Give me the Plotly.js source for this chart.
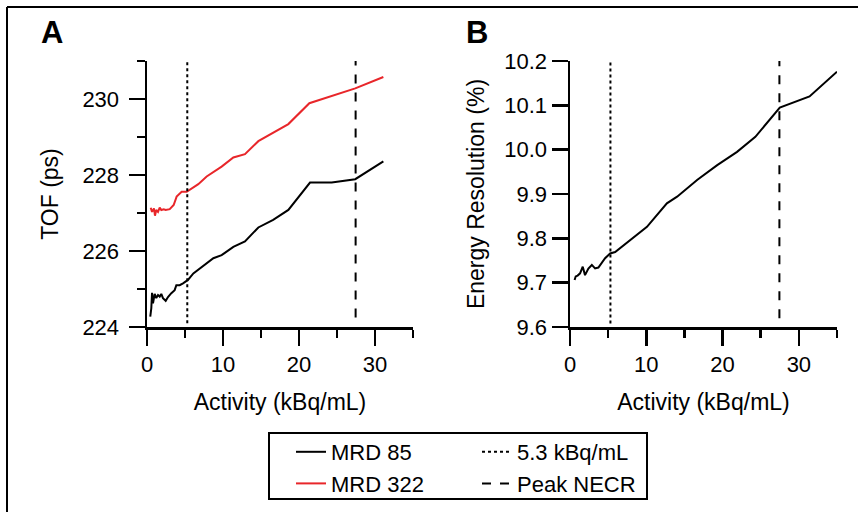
<!DOCTYPE html>
<html>
<head>
<meta charset="utf-8">
<script src="https://cdn.plot.ly/plotly-3.0.1.min.js"></script>
<style>html,body{margin:0;padding:0;background:#fff;}#chart{width:858px;height:512px;}</style>
</head>
<body>
<div id="chart"></div>
<script>
// Panel A: TOF (ps) vs Activity (kBq/mL)
const mrd85X = [0.43, 0.57, 0.66, 0.79, 1.01, 1.22, 1.45, 1.67, 1.88, 2.1, 2.46, 2.76, 3.2, 3.64, 3.86, 4.3, 4.74, 5.39, 6.1, 6.97, 8.73, 9.82, 11.36, 12.89, 14.65, 16.6, 18.6, 21.45, 24.3, 27.4, 31.1];
const mrd85TOF = [224.27, 224.5, 224.9, 224.62, 224.87, 224.76, 224.84, 224.8, 224.87, 224.76, 224.69, 224.79, 224.89, 224.97, 225.1, 225.1, 225.15, 225.24, 225.41, 225.54, 225.81, 225.89, 226.11, 226.25, 226.62, 226.82, 227.08, 227.8, 227.8, 227.89, 228.36];
const mrd322X = [0.49, 0.66, 0.92, 1.05, 1.22, 1.45, 1.67, 1.88, 2.2, 2.46, 2.99, 3.51, 3.9, 4.56, 5.22, 6.75, 7.85, 9.82, 11.36, 12.89, 14.65, 16.6, 18.6, 21.36, 24.3, 27.4, 31.1];
const mrd322TOF = [227.14, 227.03, 227.12, 226.93, 227.08, 227.03, 227.14, 227.08, 227.1, 227.08, 227.1, 227.21, 227.43, 227.56, 227.56, 227.76, 227.96, 228.22, 228.46, 228.55, 228.89, 229.12, 229.34, 229.89, 230.08, 230.28, 230.58];

// Panel B: Energy resolution (%) vs Activity (kBq/mL), MRD 85
const erX = [0.6, 0.75, 1.0, 1.32, 1.67, 1.97, 2.41, 2.86, 3.29, 3.72, 4.6, 5.26, 5.92, 6.8, 8.77, 10.09, 12.7, 14.04, 16.7, 19.3, 21.9, 24.3, 27.5, 29.4, 31.4, 35.0];
const erY = [9.706, 9.714, 9.716, 9.721, 9.736, 9.717, 9.732, 9.74, 9.732, 9.734, 9.755, 9.766, 9.769, 9.781, 9.808, 9.826, 9.879, 9.894, 9.932, 9.965, 9.995, 10.029, 10.095, 10.108, 10.12, 10.176];

// Reference activities
const dottedX = [5.3, 5.3];
const dashedX = [27.45, 27.45];
const refA_dottedY = [224.1, 231];
const refA_dashedY = [224.25, 231];
const refB_dottedY = [9.608, 10.2];
const refB_dashedY = [9.62, 10.2];

const legendNames = ['MRD 85', 'MRD 322', '5.3 kBq/mL', 'Peak NECR'];
const xTitle = 'Activity (kBq/mL)';
const yTitleA = 'TOF (ps)';
const yTitleB = 'Energy Resolution (%)';

const FONT = '"Liberation Sans", Arial, sans-serif';

const traces = [
  {x: mrd85X, y: mrd85TOF, type: 'scatter', mode: 'lines', name: legendNames[0], line: {color: '#000', width: 2}, xaxis: 'x', yaxis: 'y', legend: 'legend'},
  {x: mrd322X, y: mrd322TOF, type: 'scatter', mode: 'lines', name: legendNames[1], line: {color: '#e8262a', width: 2}, xaxis: 'x', yaxis: 'y', legend: 'legend'},
  {x: dottedX, y: refA_dottedY, type: 'scatter', mode: 'lines', name: legendNames[2], line: {color: '#000', width: 2, dash: 'dot'}, xaxis: 'x', yaxis: 'y', legend: 'legend2'},
  {x: dashedX, y: refA_dashedY, type: 'scatter', mode: 'lines', name: legendNames[3], line: {color: '#000', width: 2, dash: 'dash'}, xaxis: 'x', yaxis: 'y', legend: 'legend2'},
  {x: erX, y: erY, type: 'scatter', mode: 'lines', name: legendNames[0], line: {color: '#000', width: 2}, xaxis: 'x2', yaxis: 'y2', showlegend: false},
  {x: dottedX, y: refB_dottedY, type: 'scatter', mode: 'lines', name: legendNames[2], line: {color: '#000', width: 2, dash: 'dot'}, xaxis: 'x2', yaxis: 'y2', showlegend: false},
  {x: dashedX, y: refB_dashedY, type: 'scatter', mode: 'lines', name: legendNames[3], line: {color: '#000', width: 2, dash: 'dash'}, xaxis: 'x2', yaxis: 'y2', showlegend: false}
];

const W = 858, H = 512;
const px = v => v / W;
const py = v => 1 - v / H;

function xAxis(domain, anchor) {
  return {
    domain: domain, anchor: anchor, range: [0, 35], dtick: 10, tick0: 0,
    ticks: 'outside', ticklen: 16, tickwidth: 2.5, tickcolor: '#000',
    minor: {dtick: 5, tick0: 0, ticks: 'outside', ticklen: 8, tickwidth: 2.5, tickcolor: '#000'},
    showline: true, linewidth: 2.5, linecolor: '#000', showgrid: false, zeroline: false,
    tickfont: {family: FONT, size: 22, color: '#000'},
    title: {text: xTitle, font: {family: FONT, size: 23, color: '#000'}, standoff: 18},
    fixedrange: true
  };
}

const layout = {
  width: W, height: H,
  margin: {l: 0, r: 0, t: 0, b: 0},
  paper_bgcolor: '#fff', plot_bgcolor: '#fff',
  xaxis: xAxis([px(147), px(413)], 'y'),
  xaxis2: xAxis([px(570), px(837)], 'y2'),
  yaxis: {
    domain: [py(327), py(61)], anchor: 'x', range: [224, 231], dtick: 2, tick0: 224,
    ticks: 'outside', ticklen: 16, tickwidth: 2.5, tickcolor: '#000', ticklabelstandoff: 5,
    minor: {dtick: 1, tick0: 224, ticks: 'outside', ticklen: 8, tickwidth: 2.5, tickcolor: '#000'},
    showline: true, linewidth: 2.5, linecolor: '#000', showgrid: false, zeroline: false,
    tickfont: {family: FONT, size: 22, color: '#000'},
    title: {text: yTitleA, font: {family: FONT, size: 23, color: '#000'}, standoff: 18},
    fixedrange: true
  },
  yaxis2: {
    domain: [py(327), py(61)], anchor: 'x2', range: [9.6, 10.2], dtick: 0.1, tick0: 9.6, tickformat: '.1f',
    ticks: 'outside', ticklen: 16, tickwidth: 2.5, tickcolor: '#000',
    showline: true, linewidth: 2.5, linecolor: '#000', showgrid: false, zeroline: false,
    tickfont: {family: FONT, size: 22, color: '#000'},
    title: {text: yTitleB, font: {family: FONT, size: 23, color: '#000'}, standoff: 13},
    fixedrange: true
  },
  showlegend: true,
  legend: {
    x: px(291), y: py(431), xanchor: 'left', yanchor: 'top', bgcolor: 'rgba(0,0,0,0)',
    font: {family: FONT, size: 22, color: '#000'}
  },
  legend2: {
    x: px(477), y: py(431), xanchor: 'left', yanchor: 'top', bgcolor: 'rgba(0,0,0,0)',
    font: {family: FONT, size: 22, color: '#000'}
  },
  shapes: [
    {type: 'line', xref: 'paper', yref: 'paper', x0: px(7), x1: 1, y0: py(7), y1: py(7), line: {color: '#000', width: 2}},
    {type: 'line', xref: 'paper', yref: 'paper', x0: px(7), x1: px(7), y0: py(7), y1: 0, line: {color: '#000', width: 2}},
    {type: 'rect', xref: 'paper', yref: 'paper', x0: px(269), x1: px(647), y0: py(499), y1: py(433), line: {color: '#000', width: 2}}
  ],
  annotations: [
    {text: '<b>A</b>', xref: 'paper', yref: 'paper', x: px(52), y: py(32), xanchor: 'center', yanchor: 'middle', showarrow: false, font: {family: FONT, size: 31, color: '#000'}},
    {text: '<b>B</b>', xref: 'paper', yref: 'paper', x: px(477), y: py(32), xanchor: 'center', yanchor: 'middle', showarrow: false, font: {family: FONT, size: 31, color: '#000'}}
  ]
};

Plotly.newPlot('chart', traces, layout, {displayModeBar: false, staticPlot: true}).then(function () {
  // make sure axis ticks and lines keep a solid black stroke
  document.querySelectorAll('path.ticks, path.crisp').forEach(function (p) {
    p.style.strokeDasharray = 'none';
    p.style.opacity = '1';
  });
});
</script>
</body>
</html>
